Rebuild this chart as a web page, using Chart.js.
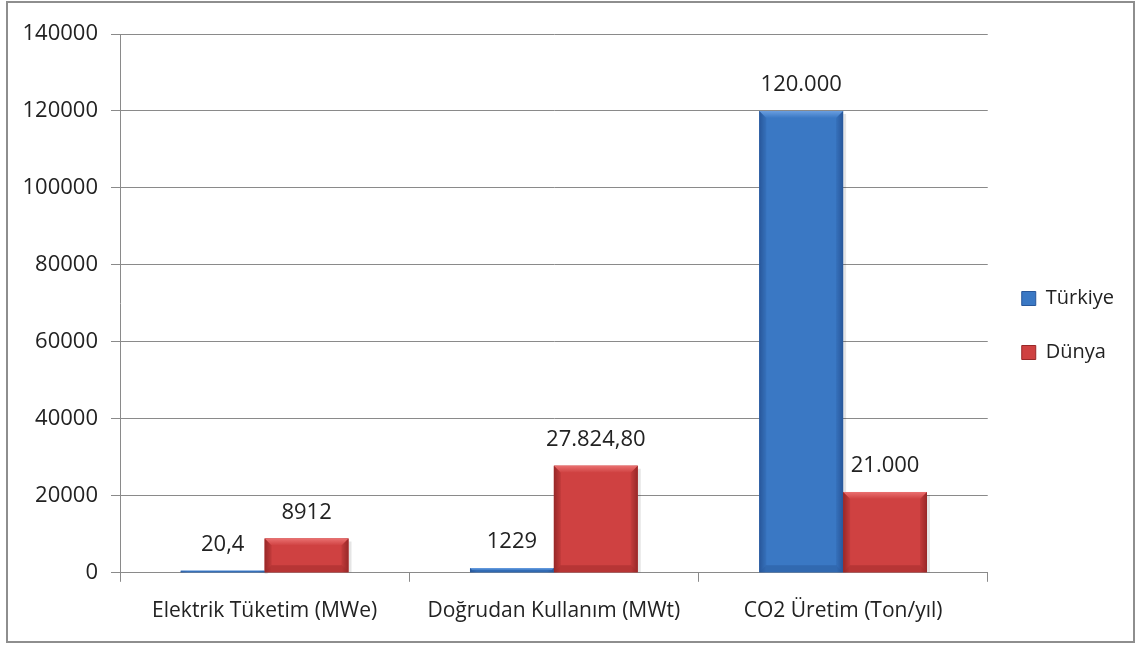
<!DOCTYPE html>
<html>
<head>
<meta charset="utf-8">
<script src="https://cdn.jsdelivr.net/npm/chart.js@4.4.1/dist/chart.umd.min.js"></script>
<style>
    html, body { margin: 0; padding: 0; background: #fff; }
    #frame {
        position: absolute; left: 6px; top: 1px;
        width: 1125px; height: 638px;
        border: 2px solid #8e8e8e; background: #fff;
    }
    #wrap { position: absolute; left: 0; top: 0; width: 1125px; height: 638px; }
</style>
</head>
<body>
<div id="frame"><div id="wrap"><canvas id="geoChart"></canvas></div></div>
<script>
// Chart data
const categories = ['Elektrik Tüketim (MWe)', 'Doğrudan Kullanım (MWt)', 'CO2 Üretim (Ton/yıl)'];
const seriesNames = ['Türkiye', 'Dünya'];
const turkiyeValues = [20.4, 1229, 120000];
const dunyaValues = [8912, 27824.8, 21000];
const turkiyeLabels = ['20,4', '1229', '120.000'];
const dunyaLabels = ['8912', '27.824,80', '21.000'];
const yTicks = [0, 20000, 40000, 60000, 80000, 100000, 120000, 140000];

const FONT = "'Open Sans', 'Liberation Sans', sans-serif";

// Colours: [base, light, dark]
const blue = ['#3a78c4', '#6a9ee0', '#28579a'];
const red = ['#cf4141', '#ea7070', '#982828'];

// Draws value labels above each bar
const valueLabels = {
    id: 'valueLabels',
    afterDatasetsDraw(chart) {
        const ctx = chart.ctx;
        const texts = [turkiyeLabels, dunyaLabels];
        ctx.save();
        ctx.font = '22px ' + FONT;
        ctx.fillStyle = '#222';
        ctx.textAlign = 'center';
        ctx.textBaseline = 'bottom';
        chart.data.datasets.forEach((ds, i) => {
            chart.getDatasetMeta(i).data.forEach((bar, j) => {
                ctx.fillText(texts[i][j], bar.x, bar.y - 15);
            });
        });
        ctx.restore();
    }
};

// Nudge the legend up a little so it sits where the original one does
const legendShift = {
    id: 'legendShift',
    afterLayout(chart) {
        if (chart.legend) {
            chart.legend.top -= 12;
            chart.legend.bottom -= 12;
        }
    }
};

// Bevel shading over each bar (imitates the Office look)
const bevelBars = {
    id: 'bevelBars',
    afterDatasetsDraw(chart) {
        const ctx = chart.ctx;
        const palettes = [blue, red];
        ctx.save();
        chart.data.datasets.forEach((ds, i) => {
            const pal = palettes[i];
            chart.getDatasetMeta(i).data.forEach(bar => {
                const left = bar.x - bar.width / 2;
                const right = bar.x + bar.width / 2;
                const top = bar.y;
                const bottom = bar.base;
                const h = bottom - top;
                if (h < 1) return;
                const b = Math.min(7, h / 2);

                // soft shadow to the right
                ctx.fillStyle = 'rgba(0,0,0,0.10)';
                ctx.fillRect(right, top + 3, 3, h - 3);

                // body gradient
                const g = ctx.createLinearGradient(left, 0, right, 0);
                g.addColorStop(0, pal[2]);
                g.addColorStop(0.08, pal[0]);
                g.addColorStop(0.92, pal[0]);
                g.addColorStop(1, pal[2]);
                ctx.fillStyle = g;
                ctx.fillRect(left, top, right - left, h);

                // top bevel
                const tg = ctx.createLinearGradient(0, top, 0, top + b);
                tg.addColorStop(0, pal[1]);
                tg.addColorStop(1, pal[0]);
                ctx.beginPath();
                ctx.moveTo(left, top);
                ctx.lineTo(right, top);
                ctx.lineTo(right - b, top + b);
                ctx.lineTo(left + b, top + b);
                ctx.closePath();
                ctx.fillStyle = tg;
                ctx.fill();

                // side bevels
                ctx.globalAlpha = 0.25;
                ctx.fillStyle = pal[2];
                ctx.beginPath();
                ctx.moveTo(right, top);
                ctx.lineTo(right, bottom);
                ctx.lineTo(right - b, bottom - b);
                ctx.lineTo(right - b, top + b);
                ctx.closePath();
                ctx.fill();
                ctx.beginPath();
                ctx.moveTo(left, top);
                ctx.lineTo(left, bottom);
                ctx.lineTo(left + b, bottom - b);
                ctx.lineTo(left + b, top + b);
                ctx.closePath();
                ctx.fill();
                // bottom bevel
                ctx.globalAlpha = 0.45;
                ctx.beginPath();
                ctx.moveTo(left, bottom);
                ctx.lineTo(right, bottom);
                ctx.lineTo(right - b, bottom - b);
                ctx.lineTo(left + b, bottom - b);
                ctx.closePath();
                ctx.fill();
                ctx.globalAlpha = 1;
            });
        });
        ctx.restore();
    }
};

new Chart(document.getElementById('geoChart'), {
    type: 'bar',
    data: {
        labels: categories,
        datasets: [{
            label: seriesNames[0],
            data: turkiyeValues,
            backgroundColor: blue[0],
            borderWidth: 0,
            minBarLength: 2
        }, {
            label: seriesNames[1],
            data: dunyaValues,
            backgroundColor: red[0],
            borderWidth: 0
        }]
    },
    plugins: [bevelBars, valueLabels, legendShift],
    options: {
        responsive: true,
        maintainAspectRatio: false,
        animation: false,
        categoryPercentage: 0.58,
        barPercentage: 1.0,
        layout: { padding: { top: 31, right: 9, bottom: 0, left: 0 } },
        plugins: {
            tooltip: { enabled: false },
            legend: {
                position: 'right',
                labels: {
                    font: { family: FONT, size: 20 },
                    color: '#222',
                    boxWidth: 14,
                    boxHeight: 14,
                    padding: 34,
                    generateLabels(chart) {
                        return [blue, red].map((pal, i) => ({
                            text: seriesNames[i],
                            fillStyle: pal[0],
                            strokeStyle: pal[2],
                            lineWidth: 1,
                            fontColor: '#222',
                            datasetIndex: i
                        }));
                    }
                }
            }
        },
        scales: {
            x: {
                grid: {
                    display: true,
                    drawOnChartArea: false,
                    drawTicks: true,
                    tickLength: 9,
                    color: '#8a8a8a',
                    offset: true
                },
                border: { color: '#8a8a8a' },
                ticks: {
                    font: { family: FONT, size: 21 },
                    color: '#222',
                    padding: 17
                }
            },
            y: {
                min: 0,
                max: 140000,
                afterBuildTicks(scale) {
                    scale.ticks = yTicks.map(v => ({ value: v }));
                },
                afterFit(scale) { scale.width = 112; },
                grid: {
                    color: '#8a8a8a',
                    tickLength: 9
                },
                border: { color: '#8a8a8a' },
                ticks: {
                    font: { family: FONT, size: 22 },
                    color: '#222',
                    padding: 13,
                    callback: value => String(value)
                }
            }
        }
    }
});
</script>
</body>
</html>
